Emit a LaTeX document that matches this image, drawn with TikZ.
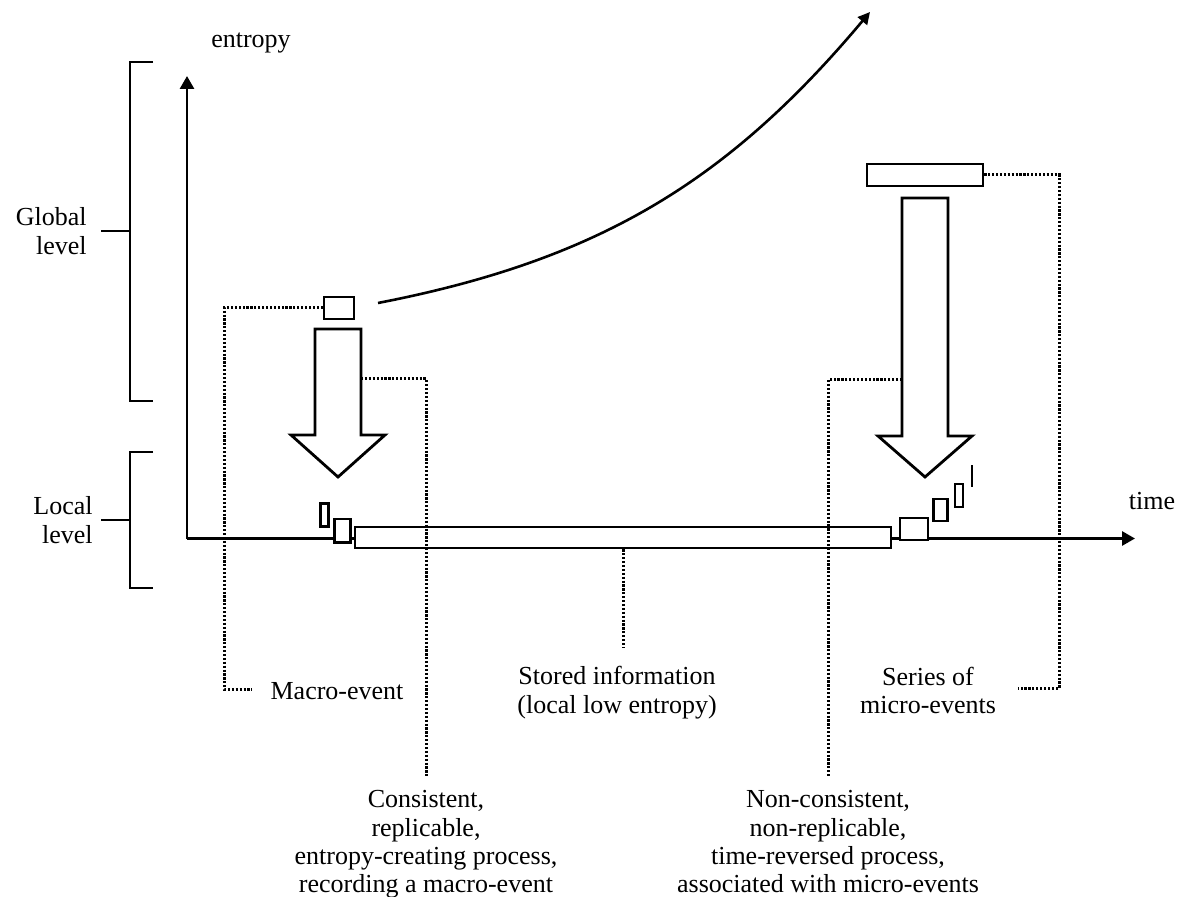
\documentclass[tikz,border=0pt]{standalone}
\usepackage{fontspec}
\setmainfont{Liberation Serif}
\usepackage{tikz}
\usetikzlibrary{calc,positioning,arrows.meta}

\begin{document}
\begin{tikzpicture}[
	%	style def
    x=0.5pt, y=-0.5pt,
    important line/.style={line width=1.4pt},
    dot line/.style={line width=1.5pt, dash pattern=on 1.1pt off 0.85pt},
    event box/.style={draw, line width=1.3pt, fill=white, inner sep=0pt},
    label text/.style={font=\fontsize{13}{14.2}\selectfont, inner sep=0pt, align=center},
    axis tip/.style={-{Triangle[width=7pt,length=6.5pt]}},
    every node/.style={color=black}
    ]
	\useasboundingbox (0,0) rectangle (1181,897);

	% axes
	\coordinate (O) at (187,538.5);
	\draw[important line, axis tip] (O) -- (187,76) coordinate (ytop);
	\draw[important line, axis tip] (O) -- (1135,538.5) coordinate (xtop);
	\node[label text] (entropy label) at (251,43) {entropy};
	\node[label text] (time label) at (1152,501) {time};

	% level brackets
	\node[label text, anchor=east, align=right] (global) at (87,231) {Global\\level};
	\node[label text, anchor=east, align=right] (local) at (93,520) {Local\\level};
	\draw[important line] (153,62) -| (130,401) -- (153,401);
	\draw[important line] (153,452) -| (130,588) -- (153,588);
	\draw[important line] (130,231) -- ([xshift=7pt]global.east);
	\draw[important line] (130,520) -- ([xshift=4pt]local.east);

	% global entropy growth
	\coordinate (curve start) at (378,303);
	\draw[line width=1.3pt, -{Triangle[width=6pt,length=6pt]}] (curve start) to[out=11, in=230] (870,12) coordinate (curve end);

	% big hollow arrows
	\draw[important line, fill=white] (315,329) -- (361,329) -- (361,435) -- (385,435) -- (338,477) -- (291,435) -- (315,435) -- cycle;
	\coordinate (l side) at (361,379);
	\draw[important line, fill=white] (902,198) -- (948,198) -- (948,436) -- (972,436) -- (925,477) -- (878,436) -- (902,436) -- cycle;
	\coordinate (r side) at (902,380);

	% events and stored information
	\node[event box, minimum width=15pt, minimum height=11pt] (macro box) at (339,308) {};
	\node[event box, minimum width=58pt, minimum height=11pt] (top box) at (925,175) {};
	\node[event box, minimum width=268pt, minimum height=10.5pt] (stored box) at (623,537.5) {};
	\node[event box, minimum width=4pt, minimum height=11.5pt] (lb1) at (324.7,514.7) {};
	\node[event box, minimum width=8.2pt, minimum height=11.7pt] (lb2) at (342.5,530.5) {};
	\node[event box, minimum width=14pt, minimum height=11pt] (rb1) at (914,529) {};
	\node[event box, minimum width=7.2pt, minimum height=11pt] (rb2) at (940.5,510) {};
	\node[event box, minimum width=4pt, minimum height=11.5pt] (rb3) at (959,495.5) {};
	\draw[important line] (972,465) -- (972,487);

	% labels
	\node[label text, anchor=north] (macro text) at (337,682) {Macro-event};
	\node[label text, anchor=north] (stored text) at (617,666) {Stored information\\(local low entropy)};
	\node[label text, anchor=north] (series text) at (928,666.5) {Series of\\micro-events};
	\node[label text, anchor=north] (cons text) at (426,790) {Consistent,\\replicable,\\entropy-creating process,\\recording a macro-event};
	\node[label text, anchor=north] (noncons text) at (828,790) {Non-consistent,\\non-replicable,\\time-reversed process,\\associated with micro-events};

	% dotted connections
	\coordinate (macro corner) at (224,689);
	\draw[dot line] (macro box.west) -| (macro corner) -- ($(macro corner -| macro text.west)+(-18,0)$);
	\draw[dot line] (l side) -| ([yshift=7pt]cons text.north);
	\draw[dot line] (r side) -| ([yshift=7pt]noncons text.north);
	\draw[dot line] (stored box.south) -- ++(0,99) coordinate (stored end);
	\coordinate (series corner) at (1059,688);
	\draw[dot line] (top box.east) -| (series corner) -- ($(series corner -| series text.east)+(22,0)$);
\end{tikzpicture}
\end{document}
